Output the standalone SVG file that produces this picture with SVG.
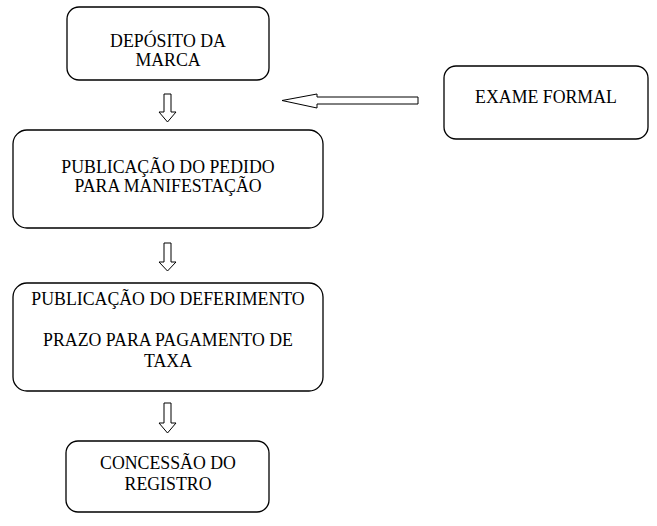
<svg xmlns="http://www.w3.org/2000/svg" width="657" height="526" viewBox="0 0 657 526">
<style>
.box{fill:#fff;stroke:#000;stroke-width:1.3}
.t{font-family:"Liberation Serif","Times New Roman",serif;font-size:17.8px;fill:#000;text-anchor:middle}
.arr{fill:#fff;stroke:#000;stroke-width:1}
</style>
<rect width="657" height="526" fill="#fff"/>
<g id="deposito">
<rect class="box" x="67" y="7" width="202" height="73" rx="12"/>
<text class="t" x="168" y="47">DEPÓSITO DA</text>
<text class="t" x="168" y="66">MARCA</text>
</g>
<g id="exame">
<rect class="box" x="444" y="66" width="204" height="73" rx="12"/>
<text class="t" x="546" y="103">EXAME FORMAL</text>
</g>
<g id="publicacao-pedido">
<rect class="box" x="13" y="130" width="310" height="98" rx="14"/>
<text class="t" x="168" y="173">PUBLICAÇÃO DO PEDIDO</text>
<text class="t" x="168" y="192">PARA MANIFESTAÇÃO</text>
</g>
<g id="publicacao-deferimento">
<rect class="box" x="13" y="283" width="310" height="108" rx="14"/>
<text class="t" x="168" y="305">PUBLICAÇÃO DO DEFERIMENTO</text>
<text class="t" x="168" y="346">PRAZO PARA PAGAMENTO DE</text>
<text class="t" x="168" y="367">TAXA</text>
</g>
<g id="concessao">
<rect class="box" x="66" y="441" width="203" height="71" rx="12"/>
<text class="t" x="168" y="469">CONCESSÃO DO</text>
<text class="t" x="168" y="490">REGISTRO</text>
</g>
<g id="connectors">
<polygon class="arr" points="164,94 171,94 171,112 176,112 167.5,122 159,112 164,112"/>
<polygon class="arr" points="164,243 171,243 171,262 176,262 167.5,271 159,262 164,262"/>
<polygon class="arr" points="164,403 171,403 171,423 176,423 167.5,433 159,423 164,423"/>
<polygon class="arr" points="418,97 317,97 317,94 282,100.5 317,108 317,104 418,104"/>
</g>
</svg>
